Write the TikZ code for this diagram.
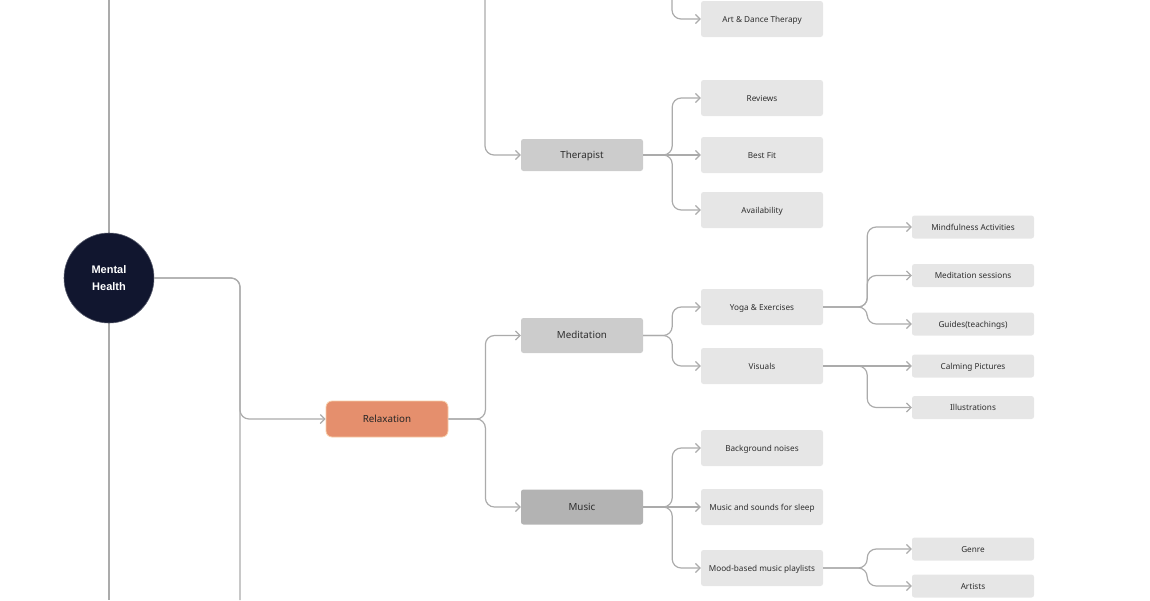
\documentclass[tikz,border=0pt]{standalone}
\usepackage{fontspec}
\setmainfont{Noto Sans}
\newfontfamily\mhfont{Liberation Sans}
\usetikzlibrary{arrows.meta,calc}
\definecolor{conncol}{HTML}{ABABAB}
\definecolor{navy}{HTML}{11162F}
\definecolor{relax}{HTML}{E58F6D}
\definecolor{relaxedge}{HTML}{F7CDA8}
\definecolor{lvltwo}{HTML}{CCCCCC}
\definecolor{musicc}{HTML}{B3B3B3}
\definecolor{leaf}{HTML}{E6E6E6}
\definecolor{txt}{HTML}{2E2E2E}
\tikzset{
  conn/.style={draw=conncol, line width=1.2pt, rounded corners=9pt, -{Straight Barb[length=4.5pt,width=9pt,line width=1.2pt]}},
  plain/.style={draw=conncol, line width=1.2pt, rounded corners=9pt},
  basebox/.style={rectangle, rounded corners=2.5pt, minimum width=122pt, text=txt, inner sep=0pt, text depth=0pt, text height=6pt},
  midbox/.style={basebox, fill=lvltwo, minimum height=33pt, font=\fontsize{9.8}{11}\selectfont},
  leafbox/.style={basebox, fill=leaf, minimum height=36pt, font=\fontsize{8.2}{9}\selectfont},
  smallbox/.style={basebox, fill=leaf, minimum height=23pt, font=\fontsize{8.2}{9}\selectfont},
}
\begin{document}
\begin{tikzpicture}[x=1pt,y=-1pt]
\useasboundingbox (0,0) rectangle (1150,600);
% trunk
\coordinate (trtop) at (109,0);
\coordinate (trbot) at (109,600);
\draw[plain] (trtop) -- (trbot);
\node[circle, fill=navy, draw=navy!70!white, line width=0.6pt, minimum size=90pt, inner sep=0pt, text=white, align=center, font=\mhfont\bfseries\fontsize{11}{17}\selectfont] (mh) at (109,278) {Mental\\Health};

% level 2
\node[basebox, fill=relax, draw=relaxedge, line width=0.8pt, minimum height=36pt, rounded corners=6pt, text=black!85, font=\fontsize{9.8}{11}\selectfont] (rel) at (387,419) {Relaxation};
\node[midbox, minimum height=32pt] (ther) at (582,155) {Therapist};
\node[midbox, minimum height=35pt] (med) at (582,335.5) {Meditation};
\node[midbox, fill=musicc, minimum height=35pt] (mus) at (582,507) {Music};

% level 3
\node[leafbox] (art) at (762,19) {Art \& Dance Therapy};
\node[leafbox] (rev) at (762,98) {Reviews};
\node[leafbox] (best) at (762,155) {Best Fit};
\node[leafbox] (avail) at (762,210) {Availability};
\node[leafbox] (yoga) at (762,307) {Yoga \& Exercises};
\node[leafbox] (vis) at (762,366) {Visuals};
\node[leafbox] (bg) at (762,448) {Background noises};
\node[leafbox] (sleep) at (762,507) {Music and sounds for sleep};
\node[leafbox] (mood) at (762,568) {Mood-based music playlists};

% level 4
\node[smallbox] (mind) at (973,227) {Mindfulness Activities};
\node[smallbox] (msess) at (973,275.5) {Meditation sessions};
\node[smallbox] (guide) at (973,324) {Guides(teachings)};
\node[smallbox] (calm) at (973,366) {Calming Pictures};
\node[smallbox] (illu) at (973,407.5) {Illustrations};
\node[smallbox] (genre) at (973,549) {Genre};
\node[smallbox] (artists) at (973,586) {Artists};

% connectors from Mental Health
\coordinate (mhbot) at (240,600);
\draw[plain] (mh.east) -| (mhbot);
\draw[conn] (mh.east) -- (240,278) |- (rel.west);

% top branch to Therapist
\coordinate (ttop) at (485,0);
\draw[conn] (ttop) |- (ther.west);
\coordinate (atop) at (672,0);
\draw[conn] (atop) |- (art.west);

% Relaxation
\draw[conn] (rel.east) -- ++(37,0) |- (med.west);
\draw[conn] (rel.east) -- ++(37,0) |- (mus.west);

% Therapist
\foreach \c in {rev,avail}
  \draw[conn] (ther.east) -- ++(29,0) |- (\c.west);
\draw[conn] (ther.east) -- (best.west);
% Meditation
\foreach \c in {yoga,vis}
  \draw[conn] (med.east) -- ++(29,0) |- (\c.west);
% Music
\foreach \c in {bg,mood}
  \draw[conn] (mus.east) -- ++(29,0) |- (\c.west);
\draw[conn] (mus.east) -- (sleep.west);
% Yoga
\foreach \c in {mind,msess,guide}
  \draw[conn] (yoga.east) -- ++(44,0) |- (\c.west);
% Visuals
\draw[conn] (vis.east) -- (calm.west);
\draw[conn] (vis.east) -- ++(44,0) |- (illu.west);
% Mood
\foreach \c in {genre,artists}
  \draw[conn] (mood.east) -- ++(44,0) |- (\c.west);
\end{tikzpicture}
\end{document}
